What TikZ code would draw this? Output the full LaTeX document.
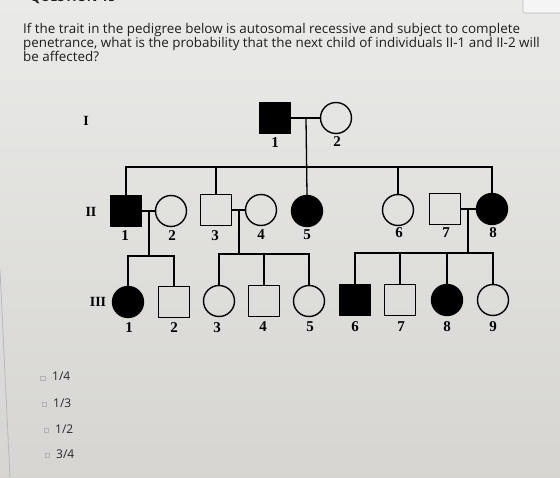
\documentclass[tikz,border=0pt]{standalone}
\usepackage{fontspec}
\setmainfont{Open Sans}
\newfontfamily\pedfont{Liberation Serif}
\definecolor{bgtop}{RGB}{234,234,232}
\definecolor{bgbot}{RGB}{214,213,209}
\definecolor{qtext}{RGB}{30,30,30}
\definecolor{otext}{RGB}{40,40,40}
\tikzset{
  sq/.style={draw, rectangle, line width=1.4pt, minimum size=31pt, inner sep=0pt},
  ci/.style={draw, circle, line width=1.4pt, minimum size=31pt, inner sep=0pt},
  aff/.style={fill=black},
  num/.style={font=\pedfont\bfseries\fontsize{15}{15}\selectfont, inner sep=0pt},
  gen/.style={font=\pedfont\bfseries\fontsize{14}{14}\selectfont, inner sep=0pt},
  link/.style={line width=1.3pt},
  qline/.style={anchor=base west, inner sep=0pt, text=qtext, font=\fontsize{13.4}{14}\selectfont},
  opt/.style={anchor=west, inner sep=0pt, text=otext, font=\fontsize{12}{13}\selectfont},
  cbox/.style={draw=gray!60, line width=0.4pt, rectangle, minimum size=4.5pt, inner sep=0pt}
}
\begin{document}
\begin{tikzpicture}[x=1pt,y=-1pt]
\useasboundingbox (0,0) rectangle (560,478);
\shade[top color=bgtop, bottom color=bgbot] (0,0) rectangle (560,478);
% photo edges
\draw[gray!55, line width=0.8pt] (0,270) -- (10,478);
\draw[gray!35, line width=0.6pt] (0,477) -- (560,477);
\draw[gray!55, fill=white!92!gray, rounded corners=2pt, line width=0.6pt] (523,-10) rectangle (575,13);
% cut-off heading
\node[anchor=base west, inner sep=0pt, text=qtext, font=\bfseries\fontsize{13}{14}\selectfont] (qhead) at (30,2) {QUESTION 15};
% question text
\node[qline] (q1) at (23,34) {If the trait in the pedigree below is autosomal recessive and subject to complete};
\node[qline] (q2) at (23,48) {penetrance, what is the probability that the next child of individuals II-1 and II-2 will};
\node[qline] (q3) at (23,62) {be affected?};

% generation labels
\node[gen] (gI) at (86,121) {I};
\node[gen] (gII) at (91,212) {II};
\node[gen] (gIII) at (98,302) {III};

% generation I
\node[sq, aff] (I1) at (275,118) {};
\node[ci] (I2) at (336,118) {};
\node[num] (lI1) at (275,143) {1};
\node[num] (lI2) at (337,142) {2};

% generation II
\node[sq, aff] (II1) at (126,211) {};
\node[ci] (II2) at (171,211) {};
\node[sq] (II3) at (216,210) {};
\node[ci] (II4) at (261,210) {};
\node[ci, aff] (II5) at (307,211) {};
\node[ci] (II6) at (398,210) {};
\node[sq] (II7) at (445,209) {};
\node[ci, aff] (II8) at (492,209) {};
\node[num] (lII1) at (125,236) {1};
\node[num] (lII2) at (172,236) {2};
\node[num] (lII3) at (215,236) {3};
\node[num] (lII4) at (261,235) {4};
\node[num] (lII5) at (307,235) {5};
\node[num] (lII6) at (399,233) {6};
\node[num] (lII7) at (446,233) {7};
\node[num] (lII8) at (493,233) {8};

% generation III
\node[ci, aff] (III1) at (128,302) {};
\node[sq] (III2) at (174,302) {};
\node[ci] (III3) at (219,301) {};
\node[sq] (III4) at (264,301) {};
\node[ci] (III5) at (309,301) {};
\node[sq, aff] (III6) at (355,300) {};
\node[sq] (III7) at (400,300) {};
\node[ci, aff] (III8) at (447,300) {};
\node[ci] (III9) at (493,300) {};
\node[num] (lIII1) at (129,328) {1};
\node[num] (lIII2) at (174,328) {2};
\node[num] (lIII3) at (217,328) {3};
\node[num] (lIII4) at (263,327) {4};
\node[num] (lIII5) at (310,327) {5};
\node[num] (lIII6) at (355,327) {6};
\node[num] (lIII7) at (401,327) {7};
\node[num] (lIII8) at (447,327) {8};
\node[num] (lIII9) at (493,327) {9};

% connection points
\coordinate (m1) at (306,118);
\coordinate (s1) at (306,167);
\coordinate (m2) at (149,211);
\coordinate (s2) at (149,256);
\coordinate (m3) at (239,210);
\coordinate (s3) at (239,254);
\coordinate (m4) at (468,209);
\coordinate (s4) at (468,253);

% gen I mating and sibship
\draw[link] (I1.east) -- (I2.west);
\draw[link] (m1) -- (II5.north);
\draw[link] (II1.north) |- (s1) -| (II8.north);
\draw[link] (II3.north) -- (II3.north |- s1);
\draw[link] (II6.north) -- (II6.north |- s1);

% gen II matings
\draw[link] (II1.east) -- (II2.west);
\draw[link] (II3.east) -- (II4.west);
\draw[link] (II7.east) -- (II8.west);

% sibships of gen III
\draw[link] (m2) -- (s2);
\draw[link] (III1.north) |- (s2) -| (III2.north);
\draw[link] (m3) -- (s3);
\draw[link] (III3.north) |- (s3) -| (III5.north);
\draw[link] (III4.north) -- (III4.north |- s3);
\draw[link] (m4) -- (s4);
\draw[link] (III6.north) |- (s4) -| (III9.north);
\draw[link] (III7.north) -- (III7.north |- s4);
\draw[link] (III8.north) -- (III8.north |- s4);

% answer options
\node[cbox] (c1) at (42.5,378) {};
\node[cbox] (c2) at (44,404) {};
\node[cbox] (c3) at (46,430) {};
\node[cbox] (c4) at (47,455) {};
\node[opt] (o1) at (52,376) {1/4};
\node[opt] (o2) at (53,403) {1/3};
\node[opt] (o3) at (55,429) {1/2};
\node[opt] (o4) at (56,454) {3/4};
\end{tikzpicture}
\end{document}
